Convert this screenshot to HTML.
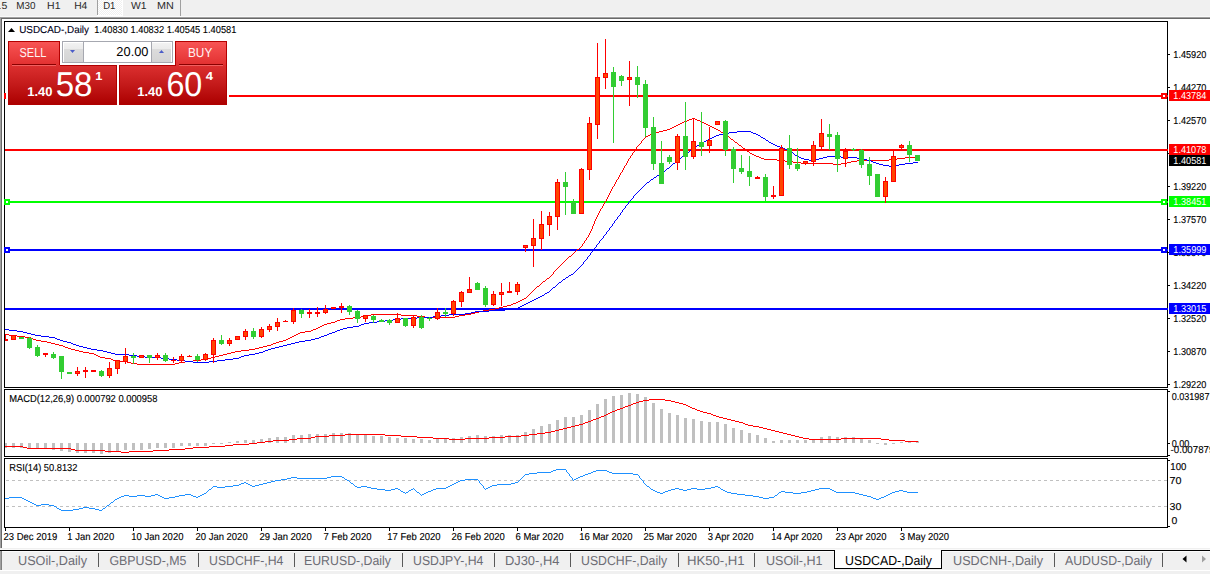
<!DOCTYPE html>
<html><head><meta charset="utf-8"><style>*{margin:0;padding:0}
html,body{width:1210px;height:574px;overflow:hidden;background:#fff}
svg{position:absolute;left:0;top:0;display:block}</style></head>
<body>
<svg width="1210" height="574" viewBox="0 0 1210 574" shape-rendering="crispEdges" text-rendering="geometricPrecision" font-family='"Liberation Sans", sans-serif'>
<rect x="0" y="0" width="1210" height="16" fill="#f0f0f0"/>
<rect x="0" y="16" width="1210" height="1" fill="#f9f9f9"/>
<rect x="0" y="17" width="1210" height="1" fill="#a0a0a0"/>
<rect x="0" y="18" width="1210" height="1" fill="#696969"/>
<rect x="0" y="19" width="1210" height="530" fill="#ffffff"/>
<rect x="0" y="17" width="1" height="532" fill="#a0a0a0"/>
<rect x="1" y="18" width="1" height="531" fill="#696969"/>
<rect x="97" y="0" width="1" height="15" fill="#a0a0a0"/>
<rect x="98" y="0" width="24" height="15" fill="url(#dith)"/>
<rect x="122" y="0" width="1" height="16" fill="#ffffff"/>
<rect x="97" y="15" width="26" height="1" fill="#ffffff"/>
<rect x="180" y="0" width="1" height="16" fill="#a0a0a0"/>
<text x="1.58" y="9" font-size="10.04" font-weight="normal" fill="#2a2a2a" textLength="5.85" lengthAdjust="spacingAndGlyphs">5</text>
<rect x="0" y="8" width="1" height="1" fill="#909090"/>
<text x="16.19" y="9" font-size="10.14" font-weight="normal" fill="#2a2a2a" textLength="19.19" lengthAdjust="spacingAndGlyphs">M30</text>
<text x="47.14" y="9" font-size="10.14" font-weight="normal" fill="#2a2a2a" textLength="13.37" lengthAdjust="spacingAndGlyphs">H1</text>
<text x="74.15" y="9" font-size="10.14" font-weight="normal" fill="#2a2a2a" textLength="13.14" lengthAdjust="spacingAndGlyphs">H4</text>
<text x="103.21" y="9" font-size="10.14" font-weight="normal" fill="#2a2a2a" textLength="12.25" lengthAdjust="spacingAndGlyphs">D1</text>
<text x="130.95" y="9" font-size="10.14" font-weight="normal" fill="#2a2a2a" textLength="15.54" lengthAdjust="spacingAndGlyphs">W1</text>
<text x="157.11" y="9" font-size="10.14" font-weight="normal" fill="#2a2a2a" textLength="16.78" lengthAdjust="spacingAndGlyphs">MN</text>
<rect x="4" y="21" width="1164" height="1" fill="#000"/>
<rect x="4" y="387" width="1164" height="1" fill="#000"/>
<rect x="4" y="21" width="1" height="367" fill="#000"/>
<rect x="1167" y="21" width="1" height="367" fill="#000"/>
<rect x="4" y="389" width="1164" height="1" fill="#000"/>
<rect x="4" y="456" width="1164" height="1" fill="#000"/>
<rect x="4" y="389" width="1" height="68" fill="#000"/>
<rect x="1167" y="389" width="1" height="68" fill="#000"/>
<rect x="4" y="458" width="1164" height="1" fill="#000"/>
<rect x="4" y="527" width="1164" height="1" fill="#000"/>
<rect x="4" y="458" width="1" height="70" fill="#000"/>
<rect x="1167" y="458" width="1" height="70" fill="#000"/>
<defs><clipPath id="cm"><rect x="5" y="22" width="1162" height="365"/></clipPath><clipPath id="cd"><rect x="5" y="390" width="1162" height="66"/></clipPath><clipPath id="cr"><rect x="5" y="459" width="1162" height="68"/></clipPath><linearGradient id="gt" gradientUnits="userSpaceOnUse" x1="0" y1="42" x2="0" y2="65"><stop offset="0" stop-color="#f85454"/><stop offset="1" stop-color="#e23030"/></linearGradient><linearGradient id="gb" gradientUnits="userSpaceOnUse" x1="0" y1="65" x2="0" y2="104"><stop offset="0" stop-color="#dc3030"/><stop offset="0.5" stop-color="#c41a1a"/><stop offset="1" stop-color="#ac0000"/></linearGradient><linearGradient id="gs" gradientUnits="userSpaceOnUse" x1="0" y1="43" x2="0" y2="62"><stop offset="0" stop-color="#f2f2f2"/><stop offset="0.3" stop-color="#ebebeb"/><stop offset="0.31" stop-color="#dcdcdc"/><stop offset="1" stop-color="#d4d4d4"/></linearGradient><pattern id="dith" width="2" height="2" patternUnits="userSpaceOnUse"><rect width="2" height="2" fill="#f0f0f0"/><rect width="1" height="1" fill="#fff"/><rect x="1" y="1" width="1" height="1" fill="#fff"/></pattern></defs>
<g clip-path="url(#cm)">
<rect x="4" y="95" width="1164" height="2" fill="#ff0000"/>
<rect x="4" y="93" width="6" height="6" fill="#ff0000"/>
<rect x="6" y="95" width="2" height="2" fill="#fff"/>
<rect x="1161" y="93" width="6" height="6" fill="#ff0000"/>
<rect x="1163" y="95" width="2" height="2" fill="#fff"/>
<rect x="4" y="149" width="1164" height="2" fill="#ff0000"/>
<rect x="4" y="201" width="1164" height="2" fill="#00ff00"/>
<rect x="4" y="199" width="6" height="6" fill="#00ff00"/>
<rect x="6" y="201" width="2" height="2" fill="#fff"/>
<rect x="1161" y="199" width="6" height="6" fill="#00ff00"/>
<rect x="1163" y="201" width="2" height="2" fill="#fff"/>
<rect x="4" y="249" width="1164" height="2" fill="#0000ff"/>
<rect x="4" y="247" width="6" height="6" fill="#0000ff"/>
<rect x="6" y="249" width="2" height="2" fill="#fff"/>
<rect x="1161" y="247" width="6" height="6" fill="#0000ff"/>
<rect x="1163" y="249" width="2" height="2" fill="#fff"/>
<rect x="4" y="308" width="1164" height="2" fill="#0000ff"/>
<path d="M51 343h4v1h-4zM273 343h3v1h-3zM629 158h1v1h-1zM761 158h3v1h-3zM897 158h8v1h-8zM495 308h4v1h-4zM594 222h1v1h-1zM9 335h8v1h-8zM294 335h2v1h-2zM367 315h4v1h-4zM401 315h16v1h-16zM459 315h6v1h-6zM636 148h1v1h-1zM743 148h2v1h-2zM127 362h4v1h-4zM179 362h6v1h-6zM305 331h6v1h-6zM98 356h2v1h-2zM215 356h4v1h-4zM628 159h1v1h-1zM764 159h13v1h-13zM889 159h8v1h-8zM111 359h2v1h-2zM201 359h6v1h-6zM554 271h1v1h-1zM631 155h1v1h-1zM754 155h2v1h-2zM41 341h6v1h-6zM279 341h4v1h-4zM634 151h1v1h-1zM747 151h2v1h-2zM635 149h1v1h-1zM745 149h1v1h-1zM116 361h11v1h-11zM185 361h8v1h-8zM68 348h3v1h-3zM255 348h4v1h-4zM489 309h6v1h-6zM100 357h5v1h-5zM211 357h4v1h-4zM626 163h1v1h-1zM801 163h32v1h-32zM841 163h6v1h-6zM79 351h4v1h-4zM235 351h6v1h-6zM89 353h5v1h-5zM227 353h4v1h-4zM613 186h1v1h-1zM628 160h1v1h-1zM777 160h8v1h-8zM857 160h32v1h-32zM371 314h30v1h-30zM465 314h6v1h-6zM353 317h8v1h-8zM425 317h30v1h-30zM627 162h1v1h-1zM793 162h8v1h-8zM847 162h4v1h-4zM25 337h6v1h-6zM290 337h2v1h-2zM503 306h4v1h-4zM680 123h2v1h-2zM704 123h2v1h-2zM137 364h38v1h-38zM626 164h1v1h-1zM833 164h8v1h-8zM648 135h2v1h-2zM726 135h1v1h-1zM71 349h4v1h-4zM249 349h6v1h-6zM33 339h3v1h-3zM286 339h2v1h-2zM340 319h5v1h-5zM96 355h2v1h-2zM219 355h4v1h-4zM531 292h1v1h-1zM609 193h1v1h-1zM589 233h1v1h-1zM36 340h5v1h-5zM283 340h3v1h-3zM5 334h4v1h-4zM296 334h2v1h-2zM17 336h8v1h-8zM292 336h2v1h-2zM511 304h2v1h-2zM75 350h4v1h-4zM241 350h8v1h-8zM577 249h2v1h-2zM47 342h4v1h-4zM276 342h3v1h-3zM59 345h4v1h-4zM267 345h4v1h-4zM361 316h6v1h-6zM417 316h8v1h-8zM455 316h4v1h-4zM659 131h4v1h-4zM720 131h1v1h-1zM113 360h3v1h-3zM193 360h8v1h-8zM471 313h4v1h-4zM483 310h6v1h-6zM105 358h6v1h-6zM207 358h4v1h-4zM561 264h1v1h-1zM31 338h2v1h-2zM288 338h2v1h-2zM585 240h1v1h-1zM650 134h2v1h-2zM725 134h1v1h-1zM499 307h4v1h-4zM676 125h2v1h-2zM708 125h2v1h-2zM313 329h3v1h-3zM645 137h1v1h-1zM729 137h1v1h-1zM598 214h1v1h-1zM335 321h2v1h-2zM672 127h2v1h-2zM712 127h2v1h-2zM63 346h2v1h-2zM263 346h4v1h-4zM345 318h8v1h-8zM655 132h4v1h-4zM721 132h2v1h-2zM638 145h1v1h-1zM739 145h2v1h-2zM596 217h1v1h-1zM630 157h1v1h-1zM759 157h2v1h-2zM905 157h13v1h-13zM94 354h2v1h-2zM223 354h4v1h-4zM542 282h1v1h-1zM55 344h4v1h-4zM271 344h2v1h-2zM300 332h5v1h-5zM687 120h2v1h-2zM697 120h3v1h-3zM131 363h6v1h-6zM175 363h4v1h-4zM627 161h1v1h-1zM785 161h8v1h-8zM851 161h6v1h-6zM324 324h3v1h-3zM526 297h1v1h-1zM637 146h1v1h-1zM741 146h1v1h-1zM593 225h1v1h-1zM608 195h1v1h-1zM692 118h3v1h-3zM630 156h1v1h-1zM756 156h3v1h-3zM667 129h3v1h-3zM716 129h2v1h-2zM331 322h4v1h-4zM479 311h4v1h-4zM565 260h1v1h-1zM689 119h3v1h-3zM695 119h2v1h-2zM632 153h1v1h-1zM750 153h2v1h-2zM553 273h1v1h-1zM592 228h1v1h-1zM604 202h1v1h-1zM546 279h1v1h-1zM581 246h1v1h-1zM584 242h1v1h-1zM83 352h6v1h-6zM231 352h4v1h-4zM674 126h2v1h-2zM710 126h2v1h-2zM641 142h1v1h-1zM735 142h2v1h-2zM507 305h4v1h-4zM620 173h1v1h-1zM65 347h3v1h-3zM259 347h4v1h-4zM682 122h2v1h-2zM702 122h2v1h-2zM678 124h2v1h-2zM706 124h2v1h-2zM320 326h2v1h-2zM513 303h3v1h-3zM543 281h2v1h-2zM533 290h1v1h-1zM568 257h1v1h-1zM588 235h1v1h-1zM522 299h2v1h-2zM600 209h1v1h-1zM684 121h3v1h-3zM700 121h2v1h-2zM624 166h1v1h-1zM475 312h4v1h-4zM518 301h2v1h-2zM616 180h1v1h-1zM593 224h1v1h-1zM663 130h4v1h-4zM718 130h2v1h-2zM556 269h1v1h-1zM643 139h1v1h-1zM731 139h2v1h-2zM553 272h1v1h-1zM311 330h2v1h-2zM612 187h1v1h-1zM615 183h1v1h-1zM337 320h3v1h-3zM592 227h1v1h-1zM670 128h2v1h-2zM714 128h2v1h-2zM584 241h1v1h-1zM547 278h2v1h-2zM316 328h2v1h-2zM572 254h1v1h-1zM634 150h1v1h-1zM746 150h1v1h-1zM611 190h1v1h-1zM603 204h1v1h-1zM528 295h1v1h-1zM563 262h1v1h-1zM327 323h4v1h-4zM520 300h2v1h-2zM607 197h1v1h-1zM587 237h1v1h-1zM599 211h1v1h-1zM623 168h1v1h-1zM615 182h1v1h-1zM591 230h1v1h-1zM646 136h2v1h-2zM727 136h2v1h-2zM322 325h2v1h-2zM652 133h3v1h-3zM723 133h2v1h-2zM552 274h1v1h-1zM619 175h1v1h-1zM611 189h1v1h-1zM639 144h1v1h-1zM738 144h1v1h-1zM516 302h2v1h-2zM636 147h1v1h-1zM742 147h1v1h-1zM594 221h1v1h-1zM560 265h1v1h-1zM532 291h1v1h-1zM558 267h1v1h-1zM606 200h1v1h-1zM591 229h1v1h-1zM318 327h2v1h-2zM583 243h1v1h-1zM642 140h1v1h-1zM733 140h1v1h-1zM622 171h1v1h-1zM574 252h1v1h-1zM535 288h1v1h-1zM602 207h1v1h-1zM567 258h1v1h-1zM539 285h1v1h-1zM590 232h1v1h-1zM618 178h1v1h-1zM571 255h1v1h-1zM610 192h1v1h-1zM640 143h1v1h-1zM737 143h1v1h-1zM586 239h1v1h-1zM555 270h1v1h-1zM598 213h1v1h-1zM614 185h1v1h-1zM606 199h1v1h-1zM550 276h1v1h-1zM622 170h1v1h-1zM602 206h1v1h-1zM590 231h1v1h-1zM618 177h1v1h-1zM530 293h1v1h-1zM527 296h1v1h-1zM562 263h1v1h-1zM298 333h2v1h-2zM633 152h1v1h-1zM749 152h1v1h-1zM586 238h1v1h-1zM614 184h1v1h-1zM632 154h1v1h-1zM752 154h2v1h-2zM597 216h1v1h-1zM644 138h1v1h-1zM730 138h1v1h-1zM537 286h2v1h-2zM569 256h2v1h-2zM641 141h1v1h-1zM734 141h1v1h-1zM573 253h1v1h-1zM609 194h1v1h-1zM589 234h1v1h-1zM601 208h1v1h-1zM524 298h2v1h-2zM625 165h1v1h-1zM592 226h1v1h-1zM557 268h1v1h-1zM605 201h1v1h-1zM597 215h1v1h-1zM541 283h1v1h-1zM576 250h1v1h-1zM621 172h1v1h-1zM545 280h1v1h-1zM534 289h1v1h-1zM580 247h1v1h-1zM549 277h1v1h-1zM596 218h1v1h-1zM617 179h1v1h-1zM608 196h1v1h-1zM604 203h1v1h-1zM529 294h1v1h-1zM564 261h1v1h-1zM620 174h1v1h-1zM588 236h1v1h-1zM600 210h1v1h-1zM624 167h1v1h-1zM616 181h1v1h-1zM612 188h1v1h-1zM582 245h1v1h-1zM536 287h1v1h-1zM610 191h1v1h-1zM540 284h1v1h-1zM575 251h1v1h-1zM595 220h1v1h-1zM603 205h1v1h-1zM559 266h1v1h-1zM594 223h1v1h-1zM607 198h1v1h-1zM599 212h1v1h-1zM623 169h1v1h-1zM579 248h1v1h-1zM582 244h1v1h-1zM551 275h1v1h-1zM595 219h1v1h-1zM619 176h1v1h-1zM566 259h1v1h-1z" fill="#ff0000"/>
<path d="M91 349h6v1h-6zM268 349h3v1h-3zM63 341h4v1h-4zM299 341h6v1h-6zM697 145h2v1h-2zM775 145h2v1h-2zM35 335h6v1h-6zM324 335h3v1h-3zM145 357h16v1h-16zM239 357h2v1h-2zM401 318h16v1h-16zM681 157h1v1h-1zM799 157h2v1h-2zM823 157h4v1h-4zM841 157h16v1h-16zM27 333h4v1h-4zM329 333h3v1h-3zM706 140h2v1h-2zM766 140h2v1h-2zM60 340h3v1h-3zM305 340h6v1h-6zM628 202h1v1h-1zM737 131h14v1h-14zM41 336h8v1h-8zM321 336h3v1h-3zM161 358h8v1h-8zM233 358h6v1h-6zM679 158h2v1h-2zM801 158h3v1h-3zM819 158h4v1h-4zM857 158h6v1h-6zM369 322h8v1h-8zM505 309h8v1h-8zM729 132h8v1h-8zM751 132h2v1h-2zM696 146h1v1h-1zM777 146h3v1h-3zM686 153h1v1h-1zM793 153h1v1h-1zM601 239h1v1h-1zM57 339h3v1h-3zM311 339h4v1h-4zM489 310h16v1h-16zM185 361h8v1h-8zM209 361h8v1h-8zM115 354h14v1h-14zM249 354h6v1h-6zM701 143h1v1h-1zM771 143h2v1h-2zM465 313h6v1h-6zM671 165h1v1h-1zM883 165h6v1h-6zM895 165h4v1h-4zM685 154h1v1h-1zM794 154h1v1h-1zM475 311h14v1h-14zM673 163h2v1h-2zM876 163h3v1h-3zM905 163h8v1h-8zM17 331h6v1h-6zM335 331h2v1h-2zM449 314h16v1h-16zM31 334h4v1h-4zM327 334h2v1h-2zM169 359h8v1h-8zM225 359h8v1h-8zM71 343h2v1h-2zM291 343h4v1h-4zM9 330h8v1h-8zM337 330h3v1h-3zM417 317h16v1h-16zM593 249h1v1h-1zM691 149h2v1h-2zM785 149h3v1h-3zM596 245h1v1h-1zM678 159h1v1h-1zM804 159h5v1h-5zM815 159h4v1h-4zM863 159h4v1h-4zM716 135h3v1h-3zM758 135h2v1h-2zM526 303h2v1h-2zM441 315h8v1h-8zM530 301h2v1h-2zM49 337h6v1h-6zM319 337h2v1h-2zM377 321h8v1h-8zM393 319h8v1h-8zM640 189h1v1h-1zM79 346h4v1h-4zM279 346h4v1h-4zM609 229h1v1h-1zM621 212h1v1h-1zM522 305h2v1h-2zM689 151h1v1h-1zM790 151h1v1h-1zM694 147h2v1h-2zM780 147h3v1h-3zM385 320h8v1h-8zM111 353h4v1h-4zM255 353h4v1h-4zM103 351h4v1h-4zM263 351h2v1h-2zM702 142h2v1h-2zM769 142h2v1h-2zM604 235h1v1h-1zM137 356h8v1h-8zM241 356h3v1h-3zM682 156h1v1h-1zM797 156h2v1h-2zM827 156h14v1h-14zM670 166h1v1h-1zM889 166h6v1h-6zM129 355h8v1h-8zM244 355h5v1h-5zM683 155h2v1h-2zM795 155h2v1h-2zM5 329h4v1h-4zM340 329h3v1h-3zM76 345h3v1h-3zM283 345h4v1h-4zM73 344h3v1h-3zM287 344h4v1h-4zM353 326h6v1h-6zM632 198h1v1h-1zM712 137h2v1h-2zM761 137h2v1h-2zM433 316h8v1h-8zM687 152h2v1h-2zM791 152h2v1h-2zM677 160h1v1h-1zM809 160h6v1h-6zM867 160h4v1h-4zM710 138h2v1h-2zM763 138h2v1h-2zM612 225h1v1h-1zM193 362h16v1h-16zM518 307h2v1h-2zM347 327h6v1h-6zM581 265h1v1h-1zM584 261h1v1h-1zM624 208h1v1h-1zM97 350h6v1h-6zM265 350h3v1h-3zM361 324h3v1h-3zM690 150h1v1h-1zM788 150h2v1h-2zM83 347h4v1h-4zM275 347h4v1h-4zM532 300h2v1h-2zM568 276h1v1h-1zM553 287h2v1h-2zM23 332h4v1h-4zM332 332h3v1h-3zM557 284h1v1h-1zM592 251h1v1h-1zM545 293h2v1h-2zM672 164h1v1h-1zM879 164h4v1h-4zM899 164h6v1h-6zM561 281h1v1h-1zM723 133h6v1h-6zM753 133h3v1h-3zM676 161h1v1h-1zM871 161h2v1h-2zM587 257h1v1h-1zM708 139h2v1h-2zM765 139h1v1h-1zM675 162h1v1h-1zM873 162h3v1h-3zM913 162h5v1h-5zM471 312h4v1h-4zM654 177h2v1h-2zM603 237h1v1h-1zM627 204h1v1h-1zM647 182h2v1h-2zM612 224h1v1h-1zM615 220h1v1h-1zM67 342h4v1h-4zM295 342h4v1h-4zM87 348h4v1h-4zM271 348h4v1h-4zM659 174h2v1h-2zM704 141h2v1h-2zM768 141h1v1h-1zM55 338h2v1h-2zM315 338h4v1h-4zM651 179h2v1h-2zM528 302h2v1h-2zM595 247h1v1h-1zM576 270h1v1h-1zM524 304h2v1h-2zM719 134h4v1h-4zM756 134h2v1h-2zM635 194h1v1h-1zM177 360h8v1h-8zM217 360h8v1h-8zM547 292h2v1h-2zM630 200h1v1h-1zM544 294h1v1h-1zM513 308h5v1h-5zM603 236h1v1h-1zM693 148h1v1h-1zM783 148h2v1h-2zM359 325h2v1h-2zM583 263h1v1h-1zM661 173h1v1h-1zM653 178h1v1h-1zM520 306h2v1h-2zM642 187h1v1h-1zM665 170h1v1h-1zM364 323h5v1h-5zM611 226h1v1h-1zM343 328h4v1h-4zM606 233h1v1h-1zM618 216h1v1h-1zM540 296h2v1h-2zM552 288h1v1h-1zM586 259h1v1h-1zM657 175h2v1h-2zM107 352h4v1h-4zM259 352h4v1h-4zM669 167h1v1h-1zM583 262h1v1h-1zM578 268h1v1h-1zM566 277h2v1h-2zM559 282h2v1h-2zM637 192h1v1h-1zM536 298h2v1h-2zM606 232h1v1h-1zM571 274h2v1h-2zM591 252h1v1h-1zM594 248h1v1h-1zM563 279h2v1h-2zM589 255h1v1h-1zM699 144h2v1h-2zM773 144h2v1h-2zM614 222h1v1h-1zM626 205h1v1h-1zM629 201h1v1h-1zM609 228h1v1h-1zM644 185h1v1h-1zM550 290h1v1h-1zM542 295h2v1h-2zM573 273h1v1h-1zM617 218h1v1h-1zM714 136h2v1h-2zM760 136h1v1h-1zM620 214h1v1h-1zM565 278h1v1h-1zM663 171h2v1h-2zM597 244h1v1h-1zM667 168h2v1h-2zM538 297h2v1h-2zM569 275h2v1h-2zM605 234h1v1h-1zM608 230h1v1h-1zM617 217h1v1h-1zM620 213h1v1h-1zM577 269h1v1h-1zM600 240h1v1h-1zM585 260h1v1h-1zM628 203h1v1h-1zM534 299h2v1h-2zM580 266h1v1h-1zM623 209h1v1h-1zM639 190h1v1h-1zM593 250h1v1h-1zM596 246h1v1h-1zM636 193h1v1h-1zM588 256h1v1h-1zM549 291h1v1h-1zM616 219h1v1h-1zM599 242h1v1h-1zM646 183h1v1h-1zM575 271h1v1h-1zM556 285h1v1h-1zM631 199h1v1h-1zM634 195h1v1h-1zM619 215h1v1h-1zM650 180h1v1h-1zM587 258h1v1h-1zM662 172h1v1h-1zM599 241h1v1h-1zM643 186h1v1h-1zM666 169h1v1h-1zM582 264h1v1h-1zM641 188h1v1h-1zM622 211h1v1h-1zM607 231h1v1h-1zM602 238h1v1h-1zM590 254h1v1h-1zM614 221h1v1h-1zM625 207h1v1h-1zM579 267h1v1h-1zM638 191h1v1h-1zM610 227h1v1h-1zM622 210h1v1h-1zM558 283h1v1h-1zM633 197h1v1h-1zM590 253h1v1h-1zM551 289h1v1h-1zM656 176h1v1h-1zM613 223h1v1h-1zM598 243h1v1h-1zM625 206h1v1h-1zM645 184h1v1h-1zM649 181h1v1h-1zM562 280h1v1h-1zM574 272h1v1h-1zM555 286h1v1h-1zM633 196h1v1h-1z" fill="#0000ff"/>
<rect x="5" y="334" width="1" height="7" fill="#ff0000"/>
<rect x="3" y="339" width="5" height="2" fill="#ff0000"/>
<rect x="13" y="335" width="1" height="5" fill="#ff0000"/>
<rect x="11" y="335" width="5" height="5" fill="#ff0000"/>
<rect x="12" y="336" width="3" height="3" fill="#ff4500"/>
<rect x="21" y="337" width="1" height="2" fill="#32cd32"/>
<rect x="19" y="337" width="5" height="2" fill="#32cd32"/>
<rect x="29" y="337" width="1" height="12" fill="#32cd32"/>
<rect x="27" y="338" width="5" height="10" fill="#32cd32"/>
<rect x="37" y="345" width="1" height="12" fill="#32cd32"/>
<rect x="35" y="347" width="5" height="9" fill="#32cd32"/>
<rect x="45" y="353" width="1" height="4" fill="#ff0000"/>
<rect x="43" y="353" width="5" height="2" fill="#ff0000"/>
<rect x="53" y="352" width="1" height="7" fill="#32cd32"/>
<rect x="51" y="354" width="5" height="4" fill="#32cd32"/>
<rect x="61" y="356" width="1" height="23" fill="#32cd32"/>
<rect x="59" y="356" width="5" height="16" fill="#32cd32"/>
<rect x="69" y="372" width="1" height="2" fill="#32cd32"/>
<rect x="67" y="372" width="5" height="2" fill="#32cd32"/>
<rect x="77" y="367" width="1" height="9" fill="#ff0000"/>
<rect x="75" y="371" width="5" height="3" fill="#ff0000"/>
<rect x="76" y="372" width="3" height="1" fill="#ff4500"/>
<rect x="85" y="367" width="1" height="11" fill="#ff0000"/>
<rect x="83" y="370" width="5" height="2" fill="#ff0000"/>
<rect x="93" y="370" width="1" height="2" fill="#ff0000"/>
<rect x="91" y="370" width="5" height="2" fill="#ff0000"/>
<rect x="101" y="370" width="1" height="7" fill="#32cd32"/>
<rect x="99" y="371" width="5" height="5" fill="#32cd32"/>
<rect x="109" y="362" width="1" height="16" fill="#ff0000"/>
<rect x="107" y="368" width="5" height="8" fill="#ff0000"/>
<rect x="108" y="369" width="3" height="6" fill="#ff4500"/>
<rect x="117" y="360" width="1" height="14" fill="#ff0000"/>
<rect x="115" y="360" width="5" height="9" fill="#ff0000"/>
<rect x="116" y="361" width="3" height="7" fill="#ff4500"/>
<rect x="125" y="348" width="1" height="16" fill="#ff0000"/>
<rect x="123" y="356" width="5" height="6" fill="#ff0000"/>
<rect x="124" y="357" width="3" height="4" fill="#ff4500"/>
<rect x="133" y="353" width="1" height="11" fill="#32cd32"/>
<rect x="131" y="356" width="5" height="2" fill="#32cd32"/>
<rect x="141" y="355" width="1" height="3" fill="#ff0000"/>
<rect x="139" y="355" width="5" height="3" fill="#ff0000"/>
<rect x="140" y="356" width="3" height="1" fill="#ff4500"/>
<rect x="149" y="355" width="1" height="8" fill="#32cd32"/>
<rect x="147" y="355" width="5" height="3" fill="#32cd32"/>
<rect x="157" y="353" width="1" height="7" fill="#ff0000"/>
<rect x="155" y="355" width="5" height="3" fill="#ff0000"/>
<rect x="156" y="356" width="3" height="1" fill="#ff4500"/>
<rect x="165" y="353" width="1" height="9" fill="#32cd32"/>
<rect x="163" y="355" width="5" height="6" fill="#32cd32"/>
<rect x="173" y="357" width="1" height="6" fill="#ff0000"/>
<rect x="171" y="360" width="5" height="1" fill="#ff0000"/>
<rect x="181" y="354" width="1" height="9" fill="#ff0000"/>
<rect x="179" y="356" width="5" height="5" fill="#ff0000"/>
<rect x="180" y="357" width="3" height="3" fill="#ff4500"/>
<rect x="189" y="355" width="1" height="2" fill="#ff0000"/>
<rect x="187" y="356" width="5" height="1" fill="#ff0000"/>
<rect x="197" y="354" width="1" height="8" fill="#32cd32"/>
<rect x="195" y="356" width="5" height="4" fill="#32cd32"/>
<rect x="205" y="353" width="1" height="8" fill="#ff0000"/>
<rect x="203" y="354" width="5" height="6" fill="#ff0000"/>
<rect x="204" y="355" width="3" height="4" fill="#ff4500"/>
<rect x="213" y="338" width="1" height="25" fill="#ff0000"/>
<rect x="211" y="340" width="5" height="15" fill="#ff0000"/>
<rect x="212" y="341" width="3" height="13" fill="#ff4500"/>
<rect x="221" y="335" width="1" height="10" fill="#32cd32"/>
<rect x="219" y="340" width="5" height="4" fill="#32cd32"/>
<rect x="229" y="338" width="1" height="8" fill="#ff0000"/>
<rect x="227" y="340" width="5" height="4" fill="#ff0000"/>
<rect x="228" y="341" width="3" height="2" fill="#ff4500"/>
<rect x="237" y="336" width="1" height="4" fill="#ff0000"/>
<rect x="235" y="336" width="5" height="4" fill="#ff0000"/>
<rect x="236" y="337" width="3" height="2" fill="#ff4500"/>
<rect x="245" y="329" width="1" height="11" fill="#ff0000"/>
<rect x="243" y="331" width="5" height="6" fill="#ff0000"/>
<rect x="244" y="332" width="3" height="4" fill="#ff4500"/>
<rect x="253" y="328" width="1" height="11" fill="#32cd32"/>
<rect x="251" y="331" width="5" height="6" fill="#32cd32"/>
<rect x="261" y="327" width="1" height="11" fill="#ff0000"/>
<rect x="259" y="329" width="5" height="8" fill="#ff0000"/>
<rect x="260" y="330" width="3" height="6" fill="#ff4500"/>
<rect x="269" y="324" width="1" height="8" fill="#ff0000"/>
<rect x="267" y="326" width="5" height="4" fill="#ff0000"/>
<rect x="268" y="327" width="3" height="2" fill="#ff4500"/>
<rect x="277" y="318" width="1" height="13" fill="#ff0000"/>
<rect x="275" y="322" width="5" height="5" fill="#ff0000"/>
<rect x="276" y="323" width="3" height="3" fill="#ff4500"/>
<rect x="285" y="320" width="1" height="2" fill="#ff0000"/>
<rect x="283" y="321" width="5" height="1" fill="#ff0000"/>
<rect x="293" y="308" width="1" height="16" fill="#ff0000"/>
<rect x="291" y="310" width="5" height="12" fill="#ff0000"/>
<rect x="292" y="311" width="3" height="10" fill="#ff4500"/>
<rect x="301" y="309" width="1" height="9" fill="#32cd32"/>
<rect x="299" y="310" width="5" height="4" fill="#32cd32"/>
<rect x="309" y="309" width="1" height="9" fill="#ff0000"/>
<rect x="307" y="312" width="5" height="2" fill="#ff0000"/>
<rect x="317" y="307" width="1" height="10" fill="#ff0000"/>
<rect x="315" y="312" width="5" height="2" fill="#ff0000"/>
<rect x="325" y="305" width="1" height="9" fill="#ff0000"/>
<rect x="323" y="309" width="5" height="4" fill="#ff0000"/>
<rect x="324" y="310" width="3" height="2" fill="#ff4500"/>
<rect x="333" y="307" width="1" height="2" fill="#ff0000"/>
<rect x="331" y="307" width="5" height="2" fill="#ff0000"/>
<rect x="341" y="303" width="1" height="10" fill="#ff0000"/>
<rect x="339" y="306" width="5" height="2" fill="#ff0000"/>
<rect x="349" y="305" width="1" height="10" fill="#32cd32"/>
<rect x="347" y="306" width="5" height="6" fill="#32cd32"/>
<rect x="357" y="310" width="1" height="13" fill="#32cd32"/>
<rect x="355" y="311" width="5" height="8" fill="#32cd32"/>
<rect x="365" y="315" width="1" height="7" fill="#ff0000"/>
<rect x="363" y="315" width="5" height="4" fill="#ff0000"/>
<rect x="364" y="316" width="3" height="2" fill="#ff4500"/>
<rect x="373" y="315" width="1" height="8" fill="#32cd32"/>
<rect x="371" y="316" width="5" height="4" fill="#32cd32"/>
<rect x="381" y="319" width="1" height="3" fill="#32cd32"/>
<rect x="379" y="320" width="5" height="2" fill="#32cd32"/>
<rect x="389" y="319" width="1" height="6" fill="#32cd32"/>
<rect x="387" y="320" width="5" height="3" fill="#32cd32"/>
<rect x="397" y="313" width="1" height="10" fill="#ff0000"/>
<rect x="395" y="318" width="5" height="5" fill="#ff0000"/>
<rect x="396" y="319" width="3" height="3" fill="#ff4500"/>
<rect x="405" y="318" width="1" height="9" fill="#32cd32"/>
<rect x="403" y="318" width="5" height="8" fill="#32cd32"/>
<rect x="413" y="316" width="1" height="12" fill="#ff0000"/>
<rect x="411" y="317" width="5" height="9" fill="#ff0000"/>
<rect x="412" y="318" width="3" height="7" fill="#ff4500"/>
<rect x="421" y="315" width="1" height="14" fill="#32cd32"/>
<rect x="419" y="317" width="5" height="11" fill="#32cd32"/>
<rect x="429" y="317" width="1" height="4" fill="#32cd32"/>
<rect x="427" y="318" width="5" height="1" fill="#32cd32"/>
<rect x="437" y="308" width="1" height="12" fill="#ff0000"/>
<rect x="435" y="312" width="5" height="7" fill="#ff0000"/>
<rect x="436" y="313" width="3" height="5" fill="#ff4500"/>
<rect x="445" y="308" width="1" height="9" fill="#32cd32"/>
<rect x="443" y="312" width="5" height="2" fill="#32cd32"/>
<rect x="453" y="300" width="1" height="16" fill="#ff0000"/>
<rect x="451" y="301" width="5" height="13" fill="#ff0000"/>
<rect x="452" y="302" width="3" height="11" fill="#ff4500"/>
<rect x="461" y="291" width="1" height="16" fill="#ff0000"/>
<rect x="459" y="292" width="5" height="10" fill="#ff0000"/>
<rect x="460" y="293" width="3" height="8" fill="#ff4500"/>
<rect x="469" y="277" width="1" height="16" fill="#ff0000"/>
<rect x="467" y="289" width="5" height="4" fill="#ff0000"/>
<rect x="468" y="290" width="3" height="2" fill="#ff4500"/>
<rect x="477" y="282" width="1" height="8" fill="#32cd32"/>
<rect x="475" y="283" width="5" height="7" fill="#32cd32"/>
<rect x="485" y="286" width="1" height="21" fill="#32cd32"/>
<rect x="483" y="288" width="5" height="17" fill="#32cd32"/>
<rect x="493" y="291" width="1" height="15" fill="#ff0000"/>
<rect x="491" y="294" width="5" height="11" fill="#ff0000"/>
<rect x="492" y="295" width="3" height="9" fill="#ff4500"/>
<rect x="501" y="283" width="1" height="23" fill="#ff0000"/>
<rect x="499" y="292" width="5" height="3" fill="#ff0000"/>
<rect x="500" y="293" width="3" height="1" fill="#ff4500"/>
<rect x="509" y="282" width="1" height="11" fill="#ff0000"/>
<rect x="507" y="291" width="5" height="2" fill="#ff0000"/>
<rect x="517" y="282" width="1" height="13" fill="#ff0000"/>
<rect x="515" y="284" width="5" height="8" fill="#ff0000"/>
<rect x="516" y="285" width="3" height="6" fill="#ff4500"/>
<rect x="525" y="245" width="1" height="7" fill="#ff0000"/>
<rect x="523" y="245" width="5" height="3" fill="#ff0000"/>
<rect x="524" y="246" width="3" height="1" fill="#ff4500"/>
<rect x="533" y="219" width="1" height="48" fill="#ff0000"/>
<rect x="531" y="238" width="5" height="8" fill="#ff0000"/>
<rect x="532" y="239" width="3" height="6" fill="#ff4500"/>
<rect x="541" y="211" width="1" height="39" fill="#ff0000"/>
<rect x="539" y="224" width="5" height="15" fill="#ff0000"/>
<rect x="540" y="225" width="3" height="13" fill="#ff4500"/>
<rect x="549" y="212" width="1" height="24" fill="#ff0000"/>
<rect x="547" y="216" width="5" height="9" fill="#ff0000"/>
<rect x="548" y="217" width="3" height="7" fill="#ff4500"/>
<rect x="557" y="179" width="1" height="51" fill="#ff0000"/>
<rect x="555" y="182" width="5" height="35" fill="#ff0000"/>
<rect x="556" y="183" width="3" height="33" fill="#ff4500"/>
<rect x="565" y="172" width="1" height="43" fill="#32cd32"/>
<rect x="563" y="182" width="5" height="5" fill="#32cd32"/>
<rect x="573" y="199" width="1" height="15" fill="#32cd32"/>
<rect x="571" y="202" width="5" height="12" fill="#32cd32"/>
<rect x="581" y="168" width="1" height="46" fill="#ff0000"/>
<rect x="579" y="169" width="5" height="45" fill="#ff0000"/>
<rect x="580" y="170" width="3" height="43" fill="#ff4500"/>
<rect x="589" y="117" width="1" height="63" fill="#ff0000"/>
<rect x="587" y="123" width="5" height="47" fill="#ff0000"/>
<rect x="588" y="124" width="3" height="45" fill="#ff4500"/>
<rect x="597" y="43" width="1" height="96" fill="#ff0000"/>
<rect x="595" y="77" width="5" height="48" fill="#ff0000"/>
<rect x="596" y="78" width="3" height="46" fill="#ff4500"/>
<rect x="605" y="39" width="1" height="50" fill="#ff0000"/>
<rect x="603" y="73" width="5" height="5" fill="#ff0000"/>
<rect x="604" y="74" width="3" height="3" fill="#ff4500"/>
<rect x="613" y="67" width="1" height="76" fill="#32cd32"/>
<rect x="611" y="72" width="5" height="15" fill="#32cd32"/>
<rect x="621" y="75" width="1" height="11" fill="#32cd32"/>
<rect x="619" y="76" width="5" height="5" fill="#32cd32"/>
<rect x="629" y="61" width="1" height="45" fill="#ff0000"/>
<rect x="627" y="77" width="5" height="3" fill="#ff0000"/>
<rect x="628" y="78" width="3" height="1" fill="#ff4500"/>
<rect x="637" y="66" width="1" height="32" fill="#32cd32"/>
<rect x="635" y="77" width="5" height="8" fill="#32cd32"/>
<rect x="645" y="80" width="1" height="57" fill="#32cd32"/>
<rect x="643" y="84" width="5" height="44" fill="#32cd32"/>
<rect x="653" y="117" width="1" height="53" fill="#32cd32"/>
<rect x="651" y="127" width="5" height="37" fill="#32cd32"/>
<rect x="661" y="141" width="1" height="43" fill="#32cd32"/>
<rect x="659" y="163" width="5" height="21" fill="#32cd32"/>
<rect x="669" y="155" width="1" height="9" fill="#32cd32"/>
<rect x="667" y="157" width="5" height="5" fill="#32cd32"/>
<rect x="677" y="134" width="1" height="36" fill="#ff0000"/>
<rect x="675" y="136" width="5" height="27" fill="#ff0000"/>
<rect x="676" y="137" width="3" height="25" fill="#ff4500"/>
<rect x="685" y="102" width="1" height="68" fill="#32cd32"/>
<rect x="683" y="136" width="5" height="21" fill="#32cd32"/>
<rect x="693" y="118" width="1" height="41" fill="#ff0000"/>
<rect x="691" y="141" width="5" height="16" fill="#ff0000"/>
<rect x="692" y="142" width="3" height="14" fill="#ff4500"/>
<rect x="701" y="112" width="1" height="44" fill="#32cd32"/>
<rect x="699" y="142" width="5" height="5" fill="#32cd32"/>
<rect x="709" y="127" width="1" height="26" fill="#ff0000"/>
<rect x="707" y="140" width="5" height="6" fill="#ff0000"/>
<rect x="708" y="141" width="3" height="4" fill="#ff4500"/>
<rect x="717" y="121" width="1" height="4" fill="#ff0000"/>
<rect x="715" y="121" width="5" height="4" fill="#ff0000"/>
<rect x="716" y="122" width="3" height="2" fill="#ff4500"/>
<rect x="725" y="120" width="1" height="36" fill="#32cd32"/>
<rect x="723" y="121" width="5" height="29" fill="#32cd32"/>
<rect x="733" y="147" width="1" height="36" fill="#32cd32"/>
<rect x="731" y="149" width="5" height="20" fill="#32cd32"/>
<rect x="741" y="155" width="1" height="19" fill="#32cd32"/>
<rect x="739" y="168" width="5" height="4" fill="#32cd32"/>
<rect x="749" y="156" width="1" height="30" fill="#32cd32"/>
<rect x="747" y="171" width="5" height="6" fill="#32cd32"/>
<rect x="757" y="176" width="1" height="3" fill="#ff0000"/>
<rect x="755" y="177" width="5" height="2" fill="#ff0000"/>
<rect x="765" y="174" width="1" height="27" fill="#32cd32"/>
<rect x="763" y="177" width="5" height="20" fill="#32cd32"/>
<rect x="773" y="186" width="1" height="13" fill="#ff0000"/>
<rect x="771" y="195" width="5" height="2" fill="#ff0000"/>
<rect x="781" y="145" width="1" height="51" fill="#ff0000"/>
<rect x="779" y="148" width="5" height="48" fill="#ff0000"/>
<rect x="780" y="149" width="3" height="46" fill="#ff4500"/>
<rect x="789" y="135" width="1" height="34" fill="#32cd32"/>
<rect x="787" y="148" width="5" height="17" fill="#32cd32"/>
<rect x="797" y="148" width="1" height="23" fill="#32cd32"/>
<rect x="795" y="164" width="5" height="5" fill="#32cd32"/>
<rect x="805" y="161" width="1" height="4" fill="#ff0000"/>
<rect x="803" y="161" width="5" height="3" fill="#ff0000"/>
<rect x="804" y="162" width="3" height="1" fill="#ff4500"/>
<rect x="813" y="141" width="1" height="25" fill="#ff0000"/>
<rect x="811" y="145" width="5" height="17" fill="#ff0000"/>
<rect x="812" y="146" width="3" height="15" fill="#ff4500"/>
<rect x="821" y="119" width="1" height="30" fill="#ff0000"/>
<rect x="819" y="133" width="5" height="14" fill="#ff0000"/>
<rect x="820" y="134" width="3" height="12" fill="#ff4500"/>
<rect x="829" y="124" width="1" height="26" fill="#32cd32"/>
<rect x="827" y="134" width="5" height="3" fill="#32cd32"/>
<rect x="837" y="132" width="1" height="40" fill="#32cd32"/>
<rect x="835" y="135" width="5" height="24" fill="#32cd32"/>
<rect x="845" y="148" width="1" height="19" fill="#ff0000"/>
<rect x="843" y="151" width="5" height="8" fill="#ff0000"/>
<rect x="844" y="152" width="3" height="6" fill="#ff4500"/>
<rect x="853" y="148" width="1" height="3" fill="#32cd32"/>
<rect x="851" y="149" width="5" height="1" fill="#32cd32"/>
<rect x="861" y="149" width="1" height="19" fill="#32cd32"/>
<rect x="859" y="150" width="5" height="15" fill="#32cd32"/>
<rect x="869" y="157" width="1" height="28" fill="#32cd32"/>
<rect x="867" y="164" width="5" height="12" fill="#32cd32"/>
<rect x="877" y="174" width="1" height="23" fill="#32cd32"/>
<rect x="875" y="174" width="5" height="23" fill="#32cd32"/>
<rect x="885" y="177" width="1" height="26" fill="#ff0000"/>
<rect x="883" y="181" width="5" height="16" fill="#ff0000"/>
<rect x="884" y="182" width="3" height="14" fill="#ff4500"/>
<rect x="893" y="151" width="1" height="31" fill="#ff0000"/>
<rect x="891" y="156" width="5" height="26" fill="#ff0000"/>
<rect x="892" y="157" width="3" height="24" fill="#ff4500"/>
<rect x="901" y="144" width="1" height="6" fill="#ff0000"/>
<rect x="899" y="145" width="5" height="3" fill="#ff0000"/>
<rect x="900" y="146" width="3" height="1" fill="#ff4500"/>
<rect x="909" y="141" width="1" height="21" fill="#32cd32"/>
<rect x="907" y="145" width="5" height="10" fill="#32cd32"/>
<rect x="917" y="155" width="1" height="6" fill="#32cd32"/>
<rect x="915" y="155" width="5" height="6" fill="#32cd32"/>
</g>
<rect x="4" y="93" width="2" height="6" fill="#ff0000"/>
<rect x="4" y="199" width="2" height="6" fill="#00ff00"/>
<rect x="4" y="247" width="2" height="6" fill="#0000ff"/>
<rect x="1167" y="95" width="1" height="2" fill="#ff0000"/>
<rect x="1167" y="201" width="1" height="2" fill="#00ff00"/>
<rect x="1167" y="249" width="1" height="2" fill="#0000ff"/>
<rect x="1167" y="149" width="1" height="2" fill="#ff0000"/>
<rect x="1167" y="308" width="1" height="2" fill="#0000ff"/>
<rect x="1168" y="54" width="2" height="1" fill="#000"/>
<text x="1173.31" y="58" font-size="10.04" font-weight="normal" fill="#000" textLength="33.05" lengthAdjust="spacingAndGlyphs" stroke="#000" stroke-width="0.12">1.45920</text>
<rect x="1168" y="87" width="2" height="1" fill="#000"/>
<text x="1173.31" y="91" font-size="10.04" font-weight="normal" fill="#000" textLength="33.05" lengthAdjust="spacingAndGlyphs" stroke="#000" stroke-width="0.12">1.44270</text>
<rect x="1168" y="120" width="2" height="1" fill="#000"/>
<text x="1173.31" y="124" font-size="10.04" font-weight="normal" fill="#000" textLength="33.05" lengthAdjust="spacingAndGlyphs" stroke="#000" stroke-width="0.12">1.42570</text>
<rect x="1168" y="153" width="2" height="1" fill="#000"/>
<text x="1173.31" y="157" font-size="10.04" font-weight="normal" fill="#000" textLength="33.05" lengthAdjust="spacingAndGlyphs" stroke="#000" stroke-width="0.12">1.40870</text>
<rect x="1168" y="186" width="2" height="1" fill="#000"/>
<text x="1173.31" y="190" font-size="10.04" font-weight="normal" fill="#000" textLength="33.05" lengthAdjust="spacingAndGlyphs" stroke="#000" stroke-width="0.12">1.39220</text>
<rect x="1168" y="219" width="2" height="1" fill="#000"/>
<text x="1173.31" y="223" font-size="10.04" font-weight="normal" fill="#000" textLength="33.05" lengthAdjust="spacingAndGlyphs" stroke="#000" stroke-width="0.12">1.37570</text>
<rect x="1168" y="252" width="2" height="1" fill="#000"/>
<text x="1173.31" y="256" font-size="10.04" font-weight="normal" fill="#000" textLength="33.05" lengthAdjust="spacingAndGlyphs" stroke="#000" stroke-width="0.12">1.35870</text>
<rect x="1168" y="285" width="2" height="1" fill="#000"/>
<text x="1173.31" y="289" font-size="10.04" font-weight="normal" fill="#000" textLength="33.05" lengthAdjust="spacingAndGlyphs" stroke="#000" stroke-width="0.12">1.34220</text>
<rect x="1168" y="318" width="2" height="1" fill="#000"/>
<text x="1173.31" y="322" font-size="10.04" font-weight="normal" fill="#000" textLength="33.05" lengthAdjust="spacingAndGlyphs" stroke="#000" stroke-width="0.12">1.32520</text>
<rect x="1168" y="351" width="2" height="1" fill="#000"/>
<text x="1173.31" y="355" font-size="10.04" font-weight="normal" fill="#000" textLength="33.05" lengthAdjust="spacingAndGlyphs" stroke="#000" stroke-width="0.12">1.30870</text>
<rect x="1168" y="384" width="2" height="1" fill="#000"/>
<text x="1173.31" y="388" font-size="10.04" font-weight="normal" fill="#000" textLength="33.05" lengthAdjust="spacingAndGlyphs" stroke="#000" stroke-width="0.12">1.29220</text>
<rect x="1169" y="90" width="41" height="11" fill="#ff0000"/>
<text x="1173.32" y="99" font-size="10.04" font-weight="normal" fill="#fff" textLength="32.96" lengthAdjust="spacingAndGlyphs">1.43784</text>
<rect x="1169" y="144" width="41" height="11" fill="#ff0000"/>
<text x="1173.31" y="153" font-size="10.04" font-weight="normal" fill="#fff" textLength="33.10" lengthAdjust="spacingAndGlyphs">1.41078</text>
<rect x="1169" y="155" width="41" height="11" fill="#000"/>
<text x="1173.31" y="164" font-size="10.04" font-weight="normal" fill="#fff" textLength="33.15" lengthAdjust="spacingAndGlyphs">1.40581</text>
<rect x="1169" y="196" width="41" height="11" fill="#00ff00"/>
<text x="1173.31" y="205" font-size="10.04" font-weight="normal" fill="#fff" textLength="33.15" lengthAdjust="spacingAndGlyphs">1.38451</text>
<rect x="1169" y="244" width="41" height="11" fill="#0000ff"/>
<text x="1173.31" y="253" font-size="10.04" font-weight="normal" fill="#fff" textLength="33.12" lengthAdjust="spacingAndGlyphs">1.35999</text>
<rect x="1169" y="303" width="41" height="11" fill="#0000ff"/>
<text x="1173.31" y="312" font-size="10.04" font-weight="normal" fill="#fff" textLength="33.07" lengthAdjust="spacingAndGlyphs">1.33015</text>
<g clip-path="url(#cd)">
<rect x="4" y="443" width="3" height="5" fill="#c0c0c0"/>
<rect x="12" y="443" width="3" height="5" fill="#c0c0c0"/>
<rect x="20" y="443" width="3" height="5" fill="#c0c0c0"/>
<rect x="28" y="443" width="3" height="5" fill="#c0c0c0"/>
<rect x="36" y="443" width="3" height="5" fill="#c0c0c0"/>
<rect x="44" y="443" width="3" height="5" fill="#c0c0c0"/>
<rect x="52" y="443" width="3" height="7" fill="#c0c0c0"/>
<rect x="60" y="443" width="3" height="8" fill="#c0c0c0"/>
<rect x="68" y="443" width="3" height="9" fill="#c0c0c0"/>
<rect x="76" y="443" width="3" height="10" fill="#c0c0c0"/>
<rect x="84" y="443" width="3" height="10" fill="#c0c0c0"/>
<rect x="92" y="443" width="3" height="10" fill="#c0c0c0"/>
<rect x="100" y="443" width="3" height="11" fill="#c0c0c0"/>
<rect x="108" y="443" width="3" height="10" fill="#c0c0c0"/>
<rect x="116" y="443" width="3" height="8" fill="#c0c0c0"/>
<rect x="124" y="443" width="3" height="7" fill="#c0c0c0"/>
<rect x="132" y="443" width="3" height="7" fill="#c0c0c0"/>
<rect x="140" y="443" width="3" height="7" fill="#c0c0c0"/>
<rect x="148" y="443" width="3" height="6" fill="#c0c0c0"/>
<rect x="156" y="443" width="3" height="5" fill="#c0c0c0"/>
<rect x="164" y="443" width="3" height="5" fill="#c0c0c0"/>
<rect x="172" y="443" width="3" height="5" fill="#c0c0c0"/>
<rect x="180" y="443" width="3" height="3" fill="#c0c0c0"/>
<rect x="188" y="443" width="3" height="3" fill="#c0c0c0"/>
<rect x="196" y="443" width="3" height="3" fill="#c0c0c0"/>
<rect x="204" y="443" width="3" height="3" fill="#c0c0c0"/>
<rect x="212" y="443" width="3" height="1" fill="#c0c0c0"/>
<rect x="220" y="443" width="3" height="1" fill="#c0c0c0"/>
<rect x="228" y="442" width="3" height="1" fill="#c0c0c0"/>
<rect x="236" y="441" width="3" height="2" fill="#c0c0c0"/>
<rect x="244" y="440" width="3" height="3" fill="#c0c0c0"/>
<rect x="252" y="440" width="3" height="3" fill="#c0c0c0"/>
<rect x="260" y="439" width="3" height="4" fill="#c0c0c0"/>
<rect x="268" y="438" width="3" height="5" fill="#c0c0c0"/>
<rect x="276" y="437" width="3" height="6" fill="#c0c0c0"/>
<rect x="284" y="437" width="3" height="6" fill="#c0c0c0"/>
<rect x="292" y="435" width="3" height="8" fill="#c0c0c0"/>
<rect x="300" y="435" width="3" height="8" fill="#c0c0c0"/>
<rect x="308" y="434" width="3" height="9" fill="#c0c0c0"/>
<rect x="316" y="434" width="3" height="9" fill="#c0c0c0"/>
<rect x="324" y="434" width="3" height="9" fill="#c0c0c0"/>
<rect x="332" y="433" width="3" height="10" fill="#c0c0c0"/>
<rect x="340" y="433" width="3" height="10" fill="#c0c0c0"/>
<rect x="348" y="433" width="3" height="10" fill="#c0c0c0"/>
<rect x="356" y="435" width="3" height="8" fill="#c0c0c0"/>
<rect x="364" y="435" width="3" height="8" fill="#c0c0c0"/>
<rect x="372" y="436" width="3" height="7" fill="#c0c0c0"/>
<rect x="380" y="436" width="3" height="7" fill="#c0c0c0"/>
<rect x="388" y="437" width="3" height="6" fill="#c0c0c0"/>
<rect x="396" y="438" width="3" height="5" fill="#c0c0c0"/>
<rect x="404" y="438" width="3" height="5" fill="#c0c0c0"/>
<rect x="412" y="439" width="3" height="4" fill="#c0c0c0"/>
<rect x="420" y="439" width="3" height="4" fill="#c0c0c0"/>
<rect x="428" y="440" width="3" height="3" fill="#c0c0c0"/>
<rect x="436" y="438" width="3" height="5" fill="#c0c0c0"/>
<rect x="444" y="438" width="3" height="5" fill="#c0c0c0"/>
<rect x="452" y="438" width="3" height="5" fill="#c0c0c0"/>
<rect x="460" y="437" width="3" height="6" fill="#c0c0c0"/>
<rect x="468" y="436" width="3" height="7" fill="#c0c0c0"/>
<rect x="476" y="435" width="3" height="8" fill="#c0c0c0"/>
<rect x="484" y="436" width="3" height="7" fill="#c0c0c0"/>
<rect x="492" y="436" width="3" height="7" fill="#c0c0c0"/>
<rect x="500" y="435" width="3" height="8" fill="#c0c0c0"/>
<rect x="508" y="435" width="3" height="8" fill="#c0c0c0"/>
<rect x="516" y="435" width="3" height="8" fill="#c0c0c0"/>
<rect x="524" y="432" width="3" height="11" fill="#c0c0c0"/>
<rect x="532" y="429" width="3" height="14" fill="#c0c0c0"/>
<rect x="540" y="426" width="3" height="17" fill="#c0c0c0"/>
<rect x="548" y="424" width="3" height="19" fill="#c0c0c0"/>
<rect x="556" y="420" width="3" height="23" fill="#c0c0c0"/>
<rect x="564" y="417" width="3" height="26" fill="#c0c0c0"/>
<rect x="572" y="417" width="3" height="26" fill="#c0c0c0"/>
<rect x="580" y="415" width="3" height="28" fill="#c0c0c0"/>
<rect x="588" y="410" width="3" height="33" fill="#c0c0c0"/>
<rect x="596" y="404" width="3" height="39" fill="#c0c0c0"/>
<rect x="604" y="399" width="3" height="44" fill="#c0c0c0"/>
<rect x="612" y="396" width="3" height="47" fill="#c0c0c0"/>
<rect x="620" y="395" width="3" height="48" fill="#c0c0c0"/>
<rect x="628" y="393" width="3" height="50" fill="#c0c0c0"/>
<rect x="636" y="394" width="3" height="49" fill="#c0c0c0"/>
<rect x="644" y="397" width="3" height="46" fill="#c0c0c0"/>
<rect x="652" y="403" width="3" height="40" fill="#c0c0c0"/>
<rect x="660" y="409" width="3" height="34" fill="#c0c0c0"/>
<rect x="668" y="413" width="3" height="30" fill="#c0c0c0"/>
<rect x="676" y="415" width="3" height="28" fill="#c0c0c0"/>
<rect x="684" y="418" width="3" height="25" fill="#c0c0c0"/>
<rect x="692" y="419" width="3" height="24" fill="#c0c0c0"/>
<rect x="700" y="421" width="3" height="22" fill="#c0c0c0"/>
<rect x="708" y="422" width="3" height="21" fill="#c0c0c0"/>
<rect x="716" y="422" width="3" height="21" fill="#c0c0c0"/>
<rect x="724" y="424" width="3" height="19" fill="#c0c0c0"/>
<rect x="732" y="428" width="3" height="15" fill="#c0c0c0"/>
<rect x="740" y="430" width="3" height="13" fill="#c0c0c0"/>
<rect x="748" y="433" width="3" height="10" fill="#c0c0c0"/>
<rect x="756" y="435" width="3" height="8" fill="#c0c0c0"/>
<rect x="764" y="438" width="3" height="5" fill="#c0c0c0"/>
<rect x="772" y="441" width="3" height="2" fill="#c0c0c0"/>
<rect x="780" y="440" width="3" height="3" fill="#c0c0c0"/>
<rect x="788" y="440" width="3" height="3" fill="#c0c0c0"/>
<rect x="796" y="440" width="3" height="3" fill="#c0c0c0"/>
<rect x="804" y="440" width="3" height="3" fill="#c0c0c0"/>
<rect x="812" y="439" width="3" height="4" fill="#c0c0c0"/>
<rect x="820" y="437" width="3" height="6" fill="#c0c0c0"/>
<rect x="828" y="436" width="3" height="7" fill="#c0c0c0"/>
<rect x="836" y="437" width="3" height="6" fill="#c0c0c0"/>
<rect x="844" y="437" width="3" height="6" fill="#c0c0c0"/>
<rect x="852" y="437" width="3" height="6" fill="#c0c0c0"/>
<rect x="860" y="439" width="3" height="4" fill="#c0c0c0"/>
<rect x="868" y="440" width="3" height="3" fill="#c0c0c0"/>
<rect x="876" y="443" width="3" height="1" fill="#c0c0c0"/>
<rect x="884" y="443" width="3" height="2" fill="#c0c0c0"/>
<rect x="892" y="443" width="3" height="1" fill="#c0c0c0"/>
<rect x="900" y="442" width="3" height="1" fill="#c0c0c0"/>
<rect x="908" y="442" width="3" height="1" fill="#c0c0c0"/>
<rect x="916" y="441" width="3" height="2" fill="#c0c0c0"/>
<path d="M625 406h3v1h-3zM688 406h2v1h-2zM329 435h16v1h-16zM385 435h16v1h-16zM521 435h8v1h-8zM791 435h4v1h-4zM311 437h4v1h-4zM417 437h16v1h-16zM489 437h16v1h-16zM799 437h4v1h-4zM233 444h16v1h-16zM273 440h16v1h-16zM889 440h16v1h-16zM265 441h8v1h-8zM905 441h13v1h-13zM5 446h18v1h-18zM209 446h16v1h-16zM537 433h8v1h-8zM783 433h4v1h-4zM639 401h4v1h-4zM671 401h4v1h-4zM23 447h4v1h-4zM193 447h16v1h-16zM289 439h8v1h-8zM449 439h16v1h-16zM809 439h32v1h-32zM881 439h8v1h-8zM315 436h14v1h-14zM401 436h16v1h-16zM505 436h16v1h-16zM795 436h4v1h-4zM596 418h3v1h-3zM723 418h4v1h-4zM617 409h3v1h-3zM695 409h2v1h-2zM615 410h2v1h-2zM697 410h3v1h-3zM563 428h4v1h-4zM763 428h4v1h-4zM105 451h16v1h-16zM129 451h24v1h-24zM297 438h14v1h-14zM433 438h16v1h-16zM465 438h24v1h-24zM803 438h6v1h-6zM841 438h40v1h-40zM27 448h44v1h-44zM185 448h8v1h-8zM345 434h40v1h-40zM529 434h8v1h-8zM787 434h4v1h-4zM121 452h8v1h-8zM575 425h4v1h-4zM748 425h5v1h-5zM628 405h3v1h-3zM686 405h2v1h-2zM599 417h2v1h-2zM719 417h4v1h-4zM71 449h4v1h-4zM169 449h16v1h-16zM643 400h6v1h-6zM665 400h6v1h-6zM559 429h4v1h-4zM767 429h4v1h-4zM649 399h16v1h-16zM249 443h8v1h-8zM75 450h30v1h-30zM153 450h16v1h-16zM591 420h2v1h-2zM731 420h4v1h-4zM610 412h2v1h-2zM703 412h4v1h-4zM571 426h4v1h-4zM753 426h6v1h-6zM545 432h6v1h-6zM779 432h4v1h-4zM588 421h3v1h-3zM735 421h4v1h-4zM225 445h8v1h-8zM257 442h8v1h-8zM593 419h3v1h-3zM727 419h4v1h-4zM551 431h4v1h-4zM775 431h4v1h-4zM612 411h3v1h-3zM700 411h3v1h-3zM636 402h3v1h-3zM675 402h4v1h-4zM606 414h2v1h-2zM711 414h2v1h-2zM555 430h4v1h-4zM771 430h4v1h-4zM604 415h2v1h-2zM713 415h3v1h-3zM620 408h3v1h-3zM692 408h3v1h-3zM601 416h3v1h-3zM716 416h3v1h-3zM608 413h2v1h-2zM707 413h4v1h-4zM579 424h4v1h-4zM745 424h3v1h-3zM585 422h3v1h-3zM739 422h4v1h-4zM567 427h4v1h-4zM759 427h4v1h-4zM633 403h3v1h-3zM679 403h4v1h-4zM623 407h2v1h-2zM690 407h2v1h-2zM631 404h2v1h-2zM683 404h3v1h-3zM583 423h2v1h-2zM743 423h2v1h-2z" fill="#ff0000"/>
</g>
<rect x="1168" y="391" width="2" height="1" fill="#000"/>
<rect x="1168" y="443" width="2" height="1" fill="#000"/>
<rect x="1168" y="455" width="2" height="1" fill="#000"/>
<text x="1171.64" y="400" font-size="10.04" font-weight="normal" fill="#000" textLength="37.83" lengthAdjust="spacingAndGlyphs" stroke="#000" stroke-width="0.12">0.031987</text>
<text x="1171.64" y="447" font-size="10.04" font-weight="normal" fill="#000" textLength="17.72" lengthAdjust="spacingAndGlyphs" stroke="#000" stroke-width="0.12">0.00</text>
<text x="1170.56" y="453" font-size="10.04" font-weight="normal" fill="#000" textLength="43.89" lengthAdjust="spacingAndGlyphs" stroke="#000" stroke-width="0.12">-0.007879</text>
<g clip-path="url(#cr)">
<line x1="5" y1="480.5" x2="1167" y2="480.5" stroke="#c0c0c0" stroke-width="1" stroke-dasharray="3,3" stroke-dashoffset="-1"/>
<line x1="5" y1="506.5" x2="1167" y2="506.5" stroke="#c0c0c0" stroke-width="1" stroke-dasharray="3,3" stroke-dashoffset="-1"/>
<path d="M241 483h3v1h-3zM246 483h2v1h-2zM263 483h4v1h-4zM351 483h2v1h-2zM454 483h2v1h-2zM480 483h1v1h-1zM511 483h4v1h-4zM644 483h1v1h-1zM204 493h2v1h-2zM405 493h1v1h-1zM419 493h1v1h-1zM424 493h2v1h-2zM660 493h3v1h-3zM731 493h6v1h-6zM778 493h1v1h-1zM793 493h8v1h-8zM855 493h4v1h-4zM890 493h2v1h-2zM213 486h4v1h-4zM225 486h8v1h-8zM252 486h3v1h-3zM355 486h2v1h-2zM361 486h6v1h-6zM448 486h2v1h-2zM483 486h1v1h-1zM490 486h2v1h-2zM647 486h2v1h-2zM715 486h3v1h-3zM244 482h2v1h-2zM267 482h4v1h-4zM350 482h1v1h-1zM456 482h2v1h-2zM479 482h1v1h-1zM515 482h3v1h-3zM643 482h1v1h-1zM61 510h12v1h-12zM99 510h3v1h-3zM287 478h4v1h-4zM297 478h30v1h-30zM344 478h1v1h-1zM521 478h1v1h-1zM572 478h1v1h-1zM576 478h2v1h-2zM640 478h1v1h-1zM537 472h14v1h-14zM567 472h1v1h-1zM591 472h2v1h-2zM609 472h3v1h-3zM291 477h6v1h-6zM327 477h4v1h-4zM342 477h2v1h-2zM522 477h1v1h-1zM571 477h1v1h-1zM578 477h2v1h-2zM639 477h1v1h-1zM211 488h1v1h-1zM371 488h6v1h-6zM395 488h3v1h-3zM413 488h1v1h-1zM436 488h10v1h-10zM484 488h1v1h-1zM486 488h2v1h-2zM650 488h1v1h-1zM675 488h4v1h-4zM691 488h6v1h-6zM705 488h6v1h-6zM720 488h1v1h-1zM819 488h11v1h-11zM121 496h3v1h-3zM129 496h8v1h-8zM145 496h6v1h-6zM160 496h2v1h-2zM175 496h4v1h-4zM193 496h3v1h-3zM198 496h2v1h-2zM753 496h6v1h-6zM774 496h1v1h-1zM867 496h4v1h-4zM884 496h2v1h-2zM207 491h1v1h-1zM401 491h2v1h-2zM408 491h1v1h-1zM416 491h1v1h-1zM428 491h3v1h-3zM655 491h2v1h-2zM665 491h3v1h-3zM725 491h2v1h-2zM781 491h4v1h-4zM807 491h4v1h-4zM834 491h2v1h-2zM895 491h4v1h-4zM903 491h4v1h-4zM206 492h1v1h-1zM403 492h2v1h-2zM406 492h2v1h-2zM417 492h2v1h-2zM426 492h2v1h-2zM657 492h3v1h-3zM663 492h2v1h-2zM727 492h4v1h-4zM779 492h2v1h-2zM785 492h8v1h-8zM801 492h6v1h-6zM836 492h19v1h-19zM892 492h3v1h-3zM907 492h11v1h-11zM124 495h5v1h-5zM137 495h8v1h-8zM151 495h4v1h-4zM158 495h2v1h-2zM179 495h6v1h-6zM191 495h2v1h-2zM200 495h2v1h-2zM421 495h1v1h-1zM745 495h8v1h-8zM775 495h2v1h-2zM863 495h4v1h-4zM886 495h2v1h-2zM233 485h6v1h-6zM250 485h2v1h-2zM255 485h4v1h-4zM354 485h1v1h-1zM450 485h2v1h-2zM482 485h1v1h-1zM492 485h5v1h-5zM646 485h1v1h-1zM54 506h2v1h-2zM106 506h1v1h-1zM56 507h1v1h-1zM83 507h6v1h-6zM105 507h1v1h-1zM525 474h4v1h-4zM569 474h1v1h-1zM585 474h3v1h-3zM633 474h5v1h-5zM529 473h8v1h-8zM568 473h1v1h-1zM588 473h3v1h-3zM612 473h21v1h-21zM209 489h2v1h-2zM377 489h8v1h-8zM391 489h4v1h-4zM398 489h2v1h-2zM411 489h2v1h-2zM414 489h1v1h-1zM433 489h3v1h-3zM485 489h1v1h-1zM651 489h2v1h-2zM671 489h4v1h-4zM679 489h4v1h-4zM687 489h4v1h-4zM697 489h8v1h-8zM721 489h2v1h-2zM815 489h4v1h-4zM830 489h2v1h-2zM9 497h13v1h-13zM119 497h2v1h-2zM162 497h2v1h-2zM169 497h6v1h-6zM196 497h2v1h-2zM759 497h4v1h-4zM769 497h5v1h-5zM871 497h2v1h-2zM881 497h3v1h-3zM331 476h11v1h-11zM523 476h1v1h-1zM570 476h1v1h-1zM580 476h3v1h-3zM639 476h1v1h-1zM212 487h1v1h-1zM217 487h8v1h-8zM357 487h4v1h-4zM367 487h4v1h-4zM446 487h2v1h-2zM483 487h1v1h-1zM488 487h2v1h-2zM649 487h1v1h-1zM711 487h4v1h-4zM718 487h2v1h-2zM208 490h1v1h-1zM385 490h6v1h-6zM400 490h1v1h-1zM409 490h2v1h-2zM415 490h1v1h-1zM431 490h2v1h-2zM653 490h2v1h-2zM668 490h3v1h-3zM683 490h4v1h-4zM723 490h2v1h-2zM811 490h4v1h-4zM832 490h2v1h-2zM899 490h4v1h-4zM556 469h10v1h-10zM553 470h3v1h-3zM566 470h1v1h-1zM596 470h11v1h-11zM57 508h2v1h-2zM79 508h4v1h-4zM89 508h6v1h-6zM103 508h2v1h-2zM5 498h4v1h-4zM22 498h2v1h-2zM117 498h2v1h-2zM164 498h5v1h-5zM763 498h6v1h-6zM873 498h3v1h-3zM879 498h2v1h-2zM155 494h3v1h-3zM185 494h6v1h-6zM202 494h2v1h-2zM420 494h1v1h-1zM422 494h2v1h-2zM737 494h8v1h-8zM777 494h1v1h-1zM859 494h4v1h-4zM888 494h2v1h-2zM271 481h4v1h-4zM349 481h1v1h-1zM458 481h2v1h-2zM479 481h1v1h-1zM518 481h1v1h-1zM643 481h1v1h-1zM239 484h2v1h-2zM248 484h2v1h-2zM259 484h4v1h-4zM353 484h1v1h-1zM452 484h2v1h-2zM481 484h1v1h-1zM497 484h14v1h-14zM645 484h1v1h-1zM36 505h5v1h-5zM49 505h5v1h-5zM107 505h2v1h-2zM551 471h2v1h-2zM566 471h1v1h-1zM593 471h3v1h-3zM607 471h2v1h-2zM59 509h2v1h-2zM73 509h6v1h-6zM95 509h4v1h-4zM102 509h1v1h-1zM30 502h2v1h-2zM111 502h2v1h-2zM34 504h2v1h-2zM41 504h8v1h-8zM109 504h1v1h-1zM281 479h6v1h-6zM345 479h2v1h-2zM465 479h13v1h-13zM520 479h1v1h-1zM572 479h1v1h-1zM574 479h2v1h-2zM641 479h1v1h-1zM275 480h6v1h-6zM347 480h2v1h-2zM460 480h5v1h-5zM478 480h1v1h-1zM519 480h1v1h-1zM573 480h1v1h-1zM642 480h1v1h-1zM26 500h2v1h-2zM114 500h1v1h-1zM32 503h2v1h-2zM110 503h1v1h-1zM524 475h1v1h-1zM569 475h1v1h-1zM583 475h2v1h-2zM638 475h1v1h-1zM24 499h2v1h-2zM115 499h2v1h-2zM876 499h3v1h-3zM28 501h2v1h-2zM113 501h1v1h-1z" fill="#1e90ff"/>
</g>
<rect x="1168" y="460" width="2" height="1" fill="#000"/>
<rect x="1168" y="526" width="2" height="1" fill="#000"/>
<text x="1170.28" y="470" font-size="10.04" font-weight="normal" fill="#000" textLength="16.10" lengthAdjust="spacingAndGlyphs" stroke="#000" stroke-width="0.12">100</text>
<text x="1169.43" y="484" font-size="10.04" font-weight="normal" fill="#000" textLength="12.00" lengthAdjust="spacingAndGlyphs" stroke="#000" stroke-width="0.12">70</text>
<text x="1169.60" y="510" font-size="10.04" font-weight="normal" fill="#000" textLength="11.82" lengthAdjust="spacingAndGlyphs" stroke="#000" stroke-width="0.12">30</text>
<text x="1171.58" y="524" font-size="10.04" font-weight="normal" fill="#000" textLength="5.82" lengthAdjust="spacingAndGlyphs" stroke="#000" stroke-width="0.12">0</text>
<path d="M8 32 L11.5 28 L15 32 Z" fill="#000" shape-rendering="auto"/>
<text x="19.23" y="33" font-size="10.14" font-weight="normal" fill="#000018" textLength="69.78" lengthAdjust="spacingAndGlyphs" stroke="#000018" stroke-width="0.12">USDCAD-,Daily</text>
<text x="94.30" y="33" font-size="10.04" font-weight="normal" fill="#000" textLength="142.14" lengthAdjust="spacingAndGlyphs" stroke="#000" stroke-width="0.12">1.40830 1.40832 1.40545 1.40581</text>
<text x="9.23" y="402" font-size="10.14" font-weight="normal" fill="#000" textLength="148.19" lengthAdjust="spacingAndGlyphs" stroke="#000" stroke-width="0.12">MACD(12,26,9) 0.000792 0.000958</text>
<text x="9.23" y="471" font-size="10.14" font-weight="normal" fill="#000" textLength="68.24" lengthAdjust="spacingAndGlyphs" stroke="#000" stroke-width="0.12">RSI(14) 50.8132</text>
<rect x="5" y="528" width="1" height="3" fill="#000"/>
<text x="3.53" y="540" font-size="10.14" font-weight="normal" fill="#000" textLength="53.71" lengthAdjust="spacingAndGlyphs" stroke="#000" stroke-width="0.12">23 Dec 2019</text>
<rect x="69" y="528" width="1" height="3" fill="#000"/>
<text x="67.29" y="540" font-size="10.14" font-weight="normal" fill="#000" textLength="46.87" lengthAdjust="spacingAndGlyphs" stroke="#000" stroke-width="0.12">1 Jan 2020</text>
<rect x="133" y="528" width="1" height="3" fill="#000"/>
<text x="131.29" y="540" font-size="10.14" font-weight="normal" fill="#000" textLength="52.14" lengthAdjust="spacingAndGlyphs" stroke="#000" stroke-width="0.12">10 Jan 2020</text>
<rect x="197" y="528" width="1" height="3" fill="#000"/>
<text x="195.53" y="540" font-size="10.14" font-weight="normal" fill="#000" textLength="52.14" lengthAdjust="spacingAndGlyphs" stroke="#000" stroke-width="0.12">20 Jan 2020</text>
<rect x="261" y="528" width="1" height="3" fill="#000"/>
<text x="259.53" y="540" font-size="10.14" font-weight="normal" fill="#000" textLength="52.14" lengthAdjust="spacingAndGlyphs" stroke="#000" stroke-width="0.12">29 Jan 2020</text>
<rect x="325" y="528" width="1" height="3" fill="#000"/>
<text x="323.50" y="540" font-size="10.14" font-weight="normal" fill="#000" textLength="47.92" lengthAdjust="spacingAndGlyphs" stroke="#000" stroke-width="0.12">7 Feb 2020</text>
<rect x="389" y="528" width="1" height="3" fill="#000"/>
<text x="387.29" y="540" font-size="10.14" font-weight="normal" fill="#000" textLength="53.19" lengthAdjust="spacingAndGlyphs" stroke="#000" stroke-width="0.12">17 Feb 2020</text>
<rect x="453" y="528" width="1" height="3" fill="#000"/>
<text x="451.53" y="540" font-size="10.14" font-weight="normal" fill="#000" textLength="53.19" lengthAdjust="spacingAndGlyphs" stroke="#000" stroke-width="0.12">26 Feb 2020</text>
<rect x="517" y="528" width="1" height="3" fill="#000"/>
<text x="515.53" y="540" font-size="10.14" font-weight="normal" fill="#000" textLength="47.91" lengthAdjust="spacingAndGlyphs" stroke="#000" stroke-width="0.12">6 Mar 2020</text>
<rect x="581" y="528" width="1" height="3" fill="#000"/>
<text x="579.29" y="540" font-size="10.14" font-weight="normal" fill="#000" textLength="53.18" lengthAdjust="spacingAndGlyphs" stroke="#000" stroke-width="0.12">16 Mar 2020</text>
<rect x="645" y="528" width="1" height="3" fill="#000"/>
<text x="643.53" y="540" font-size="10.14" font-weight="normal" fill="#000" textLength="53.18" lengthAdjust="spacingAndGlyphs" stroke="#000" stroke-width="0.12">25 Mar 2020</text>
<rect x="709" y="528" width="1" height="3" fill="#000"/>
<text x="707.64" y="540" font-size="10.14" font-weight="normal" fill="#000" textLength="45.82" lengthAdjust="spacingAndGlyphs" stroke="#000" stroke-width="0.12">3 Apr 2020</text>
<rect x="773" y="528" width="1" height="3" fill="#000"/>
<text x="771.29" y="540" font-size="10.14" font-weight="normal" fill="#000" textLength="51.08" lengthAdjust="spacingAndGlyphs" stroke="#000" stroke-width="0.12">14 Apr 2020</text>
<rect x="837" y="528" width="1" height="3" fill="#000"/>
<text x="835.53" y="540" font-size="10.14" font-weight="normal" fill="#000" textLength="51.08" lengthAdjust="spacingAndGlyphs" stroke="#000" stroke-width="0.12">23 Apr 2020</text>
<rect x="901" y="528" width="1" height="3" fill="#000"/>
<text x="899.64" y="540" font-size="10.14" font-weight="normal" fill="#000" textLength="49.49" lengthAdjust="spacingAndGlyphs" stroke="#000" stroke-width="0.12">3 May 2020</text>
<rect x="0" y="548" width="1210" height="1" fill="#f0f0f0"/>
<rect x="0" y="549" width="1210" height="1" fill="#fafafa"/>
<rect x="0" y="550" width="1210" height="1" fill="#000"/>
<rect x="0" y="551" width="1210" height="1" fill="#fbfbfb"/>
<rect x="0" y="552" width="1210" height="18" fill="#f0f0f0"/>
<rect x="0" y="570" width="1210" height="1" fill="#ffffff"/>
<rect x="0" y="571" width="1210" height="3" fill="#f0f0f0"/>
<rect x="0" y="551" width="1" height="19" fill="#a0a0a0"/>
<rect x="1" y="551" width="1" height="19" fill="#808080"/>
<rect x="834" y="550" width="108" height="19" fill="#000"/>
<rect x="835" y="550" width="106" height="18" fill="#fff"/>
<text x="18.02" y="565" font-size="13.04" font-weight="normal" fill="#6c6c74" textLength="69.01" lengthAdjust="spacingAndGlyphs">USOil-,Daily</text>
<text x="109.38" y="565" font-size="13.04" font-weight="normal" fill="#6c6c74" textLength="77.12" lengthAdjust="spacingAndGlyphs">GBPUSD-,M5</text>
<text x="209.05" y="565" font-size="13.04" font-weight="normal" fill="#6c6c74" textLength="74.30" lengthAdjust="spacingAndGlyphs">USDCHF-,H4</text>
<text x="303.98" y="565" font-size="13.04" font-weight="normal" fill="#6c6c74" textLength="87.03" lengthAdjust="spacingAndGlyphs">EURUSD-,Daily</text>
<text x="413.05" y="565" font-size="13.04" font-weight="normal" fill="#6c6c74" textLength="70.29" lengthAdjust="spacingAndGlyphs">USDJPY-,H4</text>
<text x="504.94" y="565" font-size="13.04" font-weight="normal" fill="#6c6c74" textLength="54.43" lengthAdjust="spacingAndGlyphs">DJ30-,H4</text>
<text x="581.05" y="565" font-size="13.04" font-weight="normal" fill="#6c6c74" textLength="85.99" lengthAdjust="spacingAndGlyphs">USDCHF-,Daily</text>
<text x="686.92" y="565" font-size="13.04" font-weight="normal" fill="#6c6c74" textLength="57.72" lengthAdjust="spacingAndGlyphs">HK50-,H1</text>
<text x="766.03" y="565" font-size="13.04" font-weight="normal" fill="#6c6c74" textLength="56.58" lengthAdjust="spacingAndGlyphs">USOil-,H1</text>
<text x="845.04" y="565" font-size="13.04" font-weight="normal" fill="#000" textLength="86.97" lengthAdjust="spacingAndGlyphs">USDCAD-,Daily</text>
<text x="953.02" y="565" font-size="13.04" font-weight="normal" fill="#6c6c74" textLength="90.00" lengthAdjust="spacingAndGlyphs">USDCNH-,Daily</text>
<text x="1064.97" y="565" font-size="13.04" font-weight="normal" fill="#6c6c74" textLength="87.05" lengthAdjust="spacingAndGlyphs">AUDUSD-,Daily</text>
<rect x="98" y="553" width="1" height="14" fill="#5a5a5a"/>
<rect x="198" y="553" width="1" height="14" fill="#5a5a5a"/>
<rect x="294" y="553" width="1" height="14" fill="#5a5a5a"/>
<rect x="402" y="553" width="1" height="14" fill="#5a5a5a"/>
<rect x="494" y="553" width="1" height="14" fill="#5a5a5a"/>
<rect x="570" y="553" width="1" height="14" fill="#5a5a5a"/>
<rect x="678" y="553" width="1" height="14" fill="#5a5a5a"/>
<rect x="754" y="553" width="1" height="14" fill="#5a5a5a"/>
<rect x="1054" y="553" width="1" height="14" fill="#5a5a5a"/>
<rect x="1162" y="553" width="1" height="14" fill="#5a5a5a"/>
<path d="M1182.5 559 L1186.5 555.5 L1186.5 562.5 Z" fill="#000" shape-rendering="auto"/>
<path d="M1202 555.5 L1206 559 L1202 562.5 Z" fill="#a0a0a0" shape-rendering="auto"/>
<rect x="6" y="39" width="223" height="68" fill="#fff"/>
<rect x="8" y="41" width="52" height="24" fill="#b40000"/>
<rect x="9" y="42" width="50" height="23" fill="url(#gt)"/>
<rect x="175" y="41" width="52" height="24" fill="#b40000"/>
<rect x="176" y="42" width="50" height="23" fill="url(#gt)"/>
<rect x="8" y="65" width="109" height="40" fill="#b00000"/>
<rect x="9" y="65" width="107" height="39" fill="url(#gb)"/>
<rect x="60" y="65" width="57" height="1" fill="#b00000"/>
<rect x="119" y="65" width="108" height="40" fill="#b00000"/>
<rect x="120" y="65" width="106" height="39" fill="url(#gb)"/>
<rect x="119" y="65" width="57" height="1" fill="#b00000"/>
<rect x="12" y="64" width="44" height="1" fill="#8a0000"/>
<rect x="12" y="65" width="44" height="1" fill="#f06060"/>
<rect x="179" y="64" width="44" height="1" fill="#8a0000"/>
<rect x="179" y="65" width="44" height="1" fill="#f06060"/>
<rect x="62" y="41" width="111" height="22" fill="#a6a8b0"/>
<rect x="63" y="42" width="109" height="20" fill="#fff"/>
<rect x="64" y="43" width="19" height="19" fill="url(#gs)"/>
<rect x="83" y="42" width="1" height="20" fill="#a6a8b0"/>
<rect x="152" y="43" width="19" height="19" fill="url(#gs)"/>
<rect x="151" y="42" width="1" height="20" fill="#a6a8b0"/>
<path d="M70 50 L75 50 L72.5 53 Z" fill="#4a5cc8" shape-rendering="auto"/>
<path d="M159 53 L164 53 L161.5 50 Z" fill="#4a5cc8" shape-rendering="auto"/>
<text x="116.36" y="56" font-size="12.90" font-weight="normal" fill="#000" textLength="32.12" lengthAdjust="spacingAndGlyphs">20.00</text>
<text x="19.51" y="57" font-size="13.04" font-weight="normal" fill="#fff4f4" textLength="26.87" lengthAdjust="spacingAndGlyphs">SELL</text>
<text x="188.03" y="57" font-size="13.04" font-weight="normal" fill="#fff4f4" textLength="24.22" lengthAdjust="spacingAndGlyphs">BUY</text>
<text x="27.19" y="96" font-size="12.90" font-weight="bold" fill="#fff" textLength="25.35" lengthAdjust="spacingAndGlyphs">1.40</text>
<text x="55.68" y="96" font-size="34.41" font-weight="normal" fill="#fff" textLength="36.81" lengthAdjust="spacingAndGlyphs">58</text>
<text x="95.19" y="80" font-size="11.47" font-weight="bold" fill="#fff" textLength="7.18" lengthAdjust="spacingAndGlyphs">1</text>
<text x="137.19" y="96" font-size="12.90" font-weight="bold" fill="#fff" textLength="25.35" lengthAdjust="spacingAndGlyphs">1.40</text>
<text x="166.39" y="96" font-size="34.41" font-weight="normal" fill="#fff" textLength="35.90" lengthAdjust="spacingAndGlyphs">60</text>
<text x="205.80" y="80" font-size="11.47" font-weight="bold" fill="#fff" textLength="7.28" lengthAdjust="spacingAndGlyphs">4</text>
</svg>
</body></html>
